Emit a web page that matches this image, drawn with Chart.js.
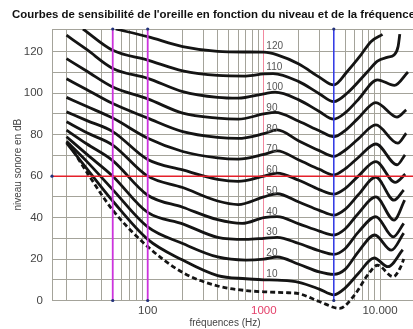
<!DOCTYPE html>
<html>
<head>
<meta charset="utf-8">
<script src="https://cdn.jsdelivr.net/npm/chart.js@4/dist/chart.umd.min.js"></script>
<style>
  html, body { margin: 0; padding: 0; background: #fff; overflow: hidden; }
  #wrap { width: 413px; height: 329px; overflow: hidden; }
</style>
</head>
<body>
<div id="wrap"><canvas id="myChart" width="430" height="329"></canvas></div>
<script>
'use strict';

// courbes isosoniques : [fréquence Hz, niveau dB]
var threshold = [[21,75.5],[31.5,60],[50,43.6],[100,26],[200,13.5],[400,7],[700,4.8],[1000,4.2],[1500,3.8],[2000,3.3],[3000,-0.5],[4500,-3.8],[6000,2.5],[8000,13],[9500,17],[13000,11.5],[15000,16],[16000,20]];
var phon10 = [[20,76],[30,63.5],[50,48],[100,29.5],[200,19.5],[400,12],[700,10.5],[1000,10],[1300,9.8],[2000,8.8],[3000,5.5],[4000,2.7],[5000,6],[6500,13],[8900,20.5],[11700,16.3],[15700,24.5]];
var phon20 = [[20,76.8],[30,67],[50,53.5],[100,35.5],[200,27.5],[400,21],[700,19.5],[1000,20],[1300,21],[2000,17.5],[3000,13.8],[4000,12.6],[5000,15],[6500,23.5],[9000,31.6],[12500,24.3],[16000,32.5]];
var phon30 = [[20,79],[30,70.5],[50,60],[100,42.5],[200,37],[400,30.5],[700,29.5],[1000,30],[1300,30.5],[2000,27.5],[3000,24],[4000,22.3],[5000,25],[6500,33],[9200,40.4],[13000,30.7],[16000,37.2]];
var phon40 = [[20,82.2],[30,75.5],[50,67.5],[100,50.8],[200,45],[400,39],[650,37.2],[1000,40],[1300,40.5],[2000,37],[3000,33.5],[4000,31.6],[5000,34.5],[6500,42],[9200,50],[13200,38.8],[16300,48.4]];
var phon50 = [[20,86.2],[30,80.9],[50,75],[100,60],[200,54.5],[400,48],[600,46.3],[1000,50],[1300,51.5],[2000,47.5],[3000,43.5],[4000,41.2],[5000,44],[6500,51],[9200,59.5],[13200,48.4],[16000,53.3]];
var phon60 = [[20,91],[30,86.8],[50,81.5],[100,68],[200,63],[400,58.5],[600,57.5],[1000,60],[1300,61.5],[2000,58],[3000,53.5],[4000,51.3],[5000,54],[6500,60],[9200,67],[13500,57],[16500,61]];
var phon70 = [[20,98],[30,93.6],[50,88],[100,78.3],[200,71.9],[400,68.8],[600,68.2],[1000,70.5],[1300,72.2],[2000,67.8],[3000,63.3],[4000,60.6],[5000,63.5],[6500,69],[9200,75.5],[14000,65.5],[16400,70.3]];
var phon80 = [[20,107],[30,101.7],[50,95],[100,88],[200,81.5],[400,78.7],[600,78.2],[1000,80.5],[1300,82.3],[2000,77],[3000,72.3],[4000,69.5],[5000,72.5],[6500,78],[9200,84.7],[14200,75.9],[16800,80.7]];
var phon90 = [[20,116.7],[30,110.6],[50,103],[100,97.3],[200,90.4],[400,88],[600,87.5],[1000,90],[1250,90.8],[2000,86.5],[3000,81.9],[4000,79],[5000,82],[6500,88],[9200,95.5],[14000,88.5],[16800,92]];
var phon100 = [[20,128],[30,121],[50,112],[100,107.2],[200,100.8],[400,98],[600,97.6],[1000,99.7],[1250,100.5],[2000,96.8],[3000,91.2],[4000,87.5],[5000,90.5],[6500,97],[9500,106.5],[13300,103.8],[17400,110.3]];
var phon110 = [[27.7,131],[50,120.7],[100,116],[200,110.8],[400,108.6],[700,108.3],[1000,109.3],[1200,109.5],[2000,105.6],[3000,99.8],[4000,96],[5200,100],[7800,110.4],[9500,115.5],[11500,117.3],[13200,118.5],[14300,122.5],[14800,128.5]];
var phon120 = [[53,131],[100,127.3],[200,122.5],[400,120.2],[700,119.9],[1000,119.8],[1300,118.5],[2000,114.1],[3000,107.8],[4000,104],[5200,110.4],[6850,118.5],[8340,124.9],[10500,128.4]];

var curves = [phon10, phon20, phon30, phon40, phon50, phon60, phon70, phon80, phon90, phon100, phon110, phon120];
var phons = [10, 20, 30, 40, 50, 60, 70, 80, 90, 100, 110, 120];

var xGrid = [15, 20, 30, 40, 50, 60, 70, 80, 90, 100, 200, 300, 400, 500, 600, 700, 800, 900,
             1000, 2000, 3000, 4000, 5000, 6000, 7000, 8000, 9000, 10000, 20000];
var xLabels = { 100: '100', 1000: '1000', 10000: '10.000' };
var yGrid = [0, 10, 20, 30, 40, 50, 60, 70, 80, 90, 100, 110, 120, 131];
var yLabels = [0, 20, 40, 60, 80, 100, 120];

var refLevel = 60;          // ligne rouge
var markFreqs = [50, 100];  // lignes magenta
var blueFreq = 4000;        // ligne bleue

var title = "Courbes de sensibilité de l'oreille en fonction du niveau et de la fréquence";
var fontFamily = '"Liberation Sans", Arial, Helvetica, sans-serif';

var datasets = curves.map(function (c, i) {
  return {
    label: phons[i] + ' phones',
    phon: phons[i],
    data: c.map(function (p) { return { x: p[0], y: p[1] }; }),
    borderColor: '#141414',
    borderWidth: 2.8,
    cubicInterpolationMode: 'monotone',
    fill: false
  };
});
datasets.push({
  label: 'seuil d\'audition',
  data: threshold.map(function (p) { return { x: p[0], y: p[1] }; }),
  borderColor: '#141414',
  borderWidth: 2.8,
  borderDash: [5, 3],
  cubicInterpolationMode: 'monotone',
  fill: false,
  clip: false
});

// lignes de repère et numéros des courbes
var markers = {
  id: 'markers',
  afterDatasetsDraw: function (chart) {
    var c = chart.ctx;
    var a = chart.chartArea;
    var xs = chart.scales.x;
    var ys = chart.scales.y;
    c.save();

    var y60 = ys.getPixelForValue(refLevel);
    c.strokeStyle = '#e5202a';
    c.lineWidth = 1.5;
    c.beginPath();
    c.moveTo(a.left, y60);
    c.lineTo(a.right, y60);
    c.stroke();

    c.strokeStyle = '#cc33dd';
    c.lineWidth = 1.8;
    markFreqs.forEach(function (f) {
      var x = xs.getPixelForValue(f);
      c.beginPath();
      c.moveTo(x, a.top);
      c.lineTo(x, a.bottom);
      c.stroke();
    });

    var xb = xs.getPixelForValue(blueFreq);
    c.strokeStyle = '#3038e8';
    c.lineWidth = 1.5;
    c.beginPath();
    c.moveTo(xb, a.top);
    c.lineTo(xb, a.bottom);
    c.stroke();

    c.fillStyle = '#22307a';
    markFreqs.concat([blueFreq]).forEach(function (f) {
      var x = xs.getPixelForValue(f);
      [a.top, a.bottom].forEach(function (y) {
        c.beginPath();
        c.arc(x, y, 1.6, 0, Math.PI * 2);
        c.fill();
      });
    });
    c.beginPath();
    c.arc(a.left, y60, 1.6, 0, Math.PI * 2);
    c.fill();

    c.fillStyle = '#555';
    c.font = '10px ' + fontFamily;
    c.textAlign = 'left';
    c.textBaseline = 'alphabetic';
    var x1000 = xs.getPixelForValue(1000);
    phons.forEach(function (p) {
      c.fillText(String(p), x1000 + 2.5, ys.getPixelForValue(p) - 3);
    });
    c.restore();
  },
  afterDraw: function (chart) {
    var c = chart.ctx;
    c.save();
    c.fillStyle = '#444';
    c.font = '10px ' + fontFamily;
    c.textAlign = 'center';
    c.textBaseline = 'middle';
    c.fillText('fréquences (Hz)', chart.chartArea.left + 173, 323);
    c.restore();
  }
};

var ctx = document.getElementById('myChart');
var chart = new Chart(ctx, {
  type: 'line',
  data: { datasets: datasets },
  options: {
    responsive: false,
    animation: false,
    devicePixelRatio: 1,
    layout: { padding: { left: 12, right: 15, top: 0, bottom: 0 } },
    elements: { point: { radius: 0 } },
    plugins: {
      legend: { display: false },
      tooltip: { enabled: false },
      title: {
        display: true,
        text: title,
        align: 'start',
        color: '#111',
        font: { family: fontFamily, size: 11.5, weight: 'bold' },
        padding: { top: 8, bottom: 7.2 }
      }
    },
    scales: {
      x: {
        type: 'logarithmic',
        min: 15,
        max: 20000,
        afterBuildTicks: function (s) {
          s.ticks = xGrid.map(function (v) { return { value: v }; });
        },
        afterFit: function (s) { s.height = 28.5; },
        grid: {
          color: function (c) { return c.tick && c.tick.value === 1000 ? '#f2899f' : '#a4a39a'; },
          lineWidth: 1,
          drawTicks: false
        },
        border: { color: '#a4a39a' },
        ticks: {
          autoSkip: false,
          maxRotation: 0,
          padding: 3,
          font: { family: fontFamily, size: 11.5 },
          color: function (c) { return c.tick && c.tick.value === 1000 ? '#e4406a' : '#444'; },
          callback: function (v) { return xLabels[v] || ''; }
        }
      },
      y: {
        type: 'linear',
        min: 0,
        max: 131,
        afterBuildTicks: function (s) {
          s.ticks = yGrid.map(function (v) { return { value: v }; });
        },
        afterFit: function (s) { s.width = 40; },
        grid: { color: '#a4a39a', lineWidth: 1, drawTicks: false },
        border: { color: '#a4a39a' },
        title: {
          display: true,
          text: 'niveau sonore en dB',
          color: '#444',
          font: { family: fontFamily, size: 10 },
          padding: 0
        },
        ticks: {
          autoSkip: false,
          padding: 9,
          font: { family: fontFamily, size: 11.5 },
          color: '#444',
          callback: function (v) { return yLabels.indexOf(v) >= 0 ? String(v) : ''; }
        }
      }
    }
  },
  plugins: [markers]
});
</script>
</body>
</html>
